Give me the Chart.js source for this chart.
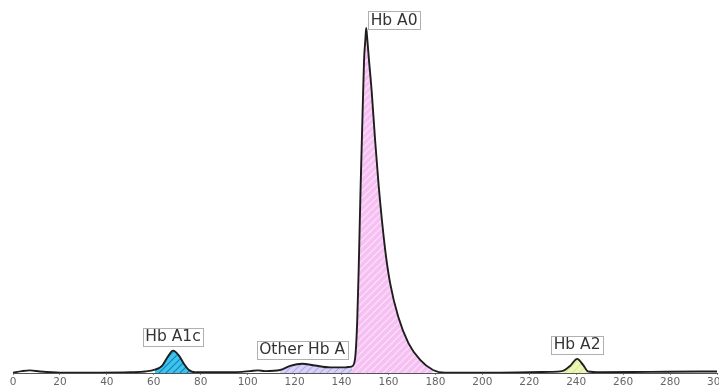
<!DOCTYPE html>
<html>
<head>
<meta charset="utf-8">
<script src="https://cdn.jsdelivr.net/npm/chart.js@4.4.0/dist/chart.umd.min.js"></script>
<style>
html,body{margin:0;padding:0;background:#fff;}
#wrap{width:719px;height:387px;}
</style>
</head>
<body>
<div id="wrap"><canvas id="c" width="719" height="387"></canvas></div>
<script>
// Retention time (s) and detector signal
const times = [0,3.8,7.2,11.5,20,37.1,49.9,56.3,60.5,63.5,65.6,68.2,70.8,72.9,75,77.6,92.5,101,104.4,107.4,113.8,118.1,123.2,128.7,135.1,141.5,142.8,
  144.5,145.8,146.7,147.3,148.1,149,149.6,150.2,150.5,151,151.7,152.8,154.3,155.8,158.6,160.7,164.2,168.5,173.5,179,184.1,
  207.6,228.9,234,237.4,240.4,243,245.1,250.2,271.5,292.8,300];
const signal = [0.1,0.5,0.7,0.4,0.1,0.1,0.2,0.4,0.9,1.9,4.0,6.0,4.6,2.4,0.8,0.2,0.2,0.5,0.7,0.5,0.8,1.9,2.5,2.0,1.5,1.5,1.6,
  1.8,4.0,14.2,27.6,49.1,70.5,83.9,89.8,92.5,89.3,83.9,75.9,62.5,50.4,33.0,24.1,15.0,8.0,3.5,0.8,0.1,
  0.1,0.3,0.5,1.9,3.8,2.1,0.4,0.2,0.3,0.4,0.4];

// Peaks
const peakNames = ['Hb A1c','Other Hb A','Hb A0','Hb A2'];
const peakStart = [60.5, 113.8, 144.5, 234];
const peakEnd   = [77.6, 144.5, 179, 245.1];
const peakApex  = [68.2, 123.2, 150.5, 240.4];
const peakLabelSide = ['center','center','right','center'];

const xTicks = [0,20,40,60,80,100,120,140,160,180,200,220,240,260,280,300];

function hatch(base, line){
  const s = 7, c = document.createElement('canvas');
  c.width = s; c.height = s;
  const g = c.getContext('2d');
  g.fillStyle = base; g.fillRect(0,0,s,s);
  g.strokeStyle = line; g.lineWidth = 1.2;
  g.beginPath();
  g.moveTo(0,s); g.lineTo(s,0);
  g.moveTo(-s/2,s/2); g.lineTo(s/2,-s/2);
  g.moveTo(s/2,s+s/2); g.lineTo(s+s/2,s/2);
  g.stroke();
  return c;
}
const ctx = document.getElementById('c').getContext('2d');
const fills = [
  ctx.createPattern(hatch('#3cc4ee','#1583b5'),'repeat'),
  ctx.createPattern(hatch('#d9d2f6','#b3a8ee'),'repeat'),
  ctx.createPattern(hatch('#f6c0f3','#fbe3fa'),'repeat'),
  ctx.createPattern(hatch('#eef5b8','#dfe890'),'repeat')
];

function segFill(c){
  const a = c.p0.parsed.x, b = c.p1.parsed.x;
  for (let i=0;i<peakStart.length;i++){
    if (a >= peakStart[i] && b <= peakEnd[i]) return fills[i];
  }
  return 'rgba(0,0,0,0)';
}

const labelPlugin = {
  id:'peakLabels',
  afterDatasetsDraw(chart){
    const {ctx, scales:{x,y}} = chart;
    ctx.save();
    ctx.font = '15.5px "DejaVu Sans"';
    ctx.textBaseline = 'middle';
    peakNames.forEach((name,i)=>{
      const idx = times.indexOf(peakApex[i]);
      const px = x.getPixelForValue(peakApex[i]);
      const py = y.getPixelForValue(signal[idx]);
      const tw = ctx.measureText(name).width;
      const w = tw + 5, h = 18;
      let bx, by;
      if (peakLabelSide[i] === 'right'){ bx = px + 2; by = py + 1 - h; }
      else { bx = px - w/2; by = py - 5 - h; }
      ctx.fillStyle = '#ffffff';
      ctx.fillRect(bx,by,w,h);
      ctx.strokeStyle = '#b0b0b0'; ctx.lineWidth = 1;
      ctx.strokeRect(Math.round(bx)+0.5, Math.round(by)+0.5, Math.round(w), Math.round(h));
      ctx.fillStyle = '#333333';
      ctx.textAlign = 'left';
      ctx.fillText(name, bx + 2.5, by + h/2 + 0.5);
    });
    ctx.restore();
  }
};

new Chart(ctx, {
  type:'line',
  data:{
    datasets:[{
      data: times.map((t,i)=>({x:t, y:signal[i]})),
      borderColor:'#1e1e1e',
      borderWidth:1.9,
      pointRadius:0,
      cubicInterpolationMode:'monotone',
      fill:'origin',
      backgroundColor:'rgba(0,0,0,0)',
      segment:{ backgroundColor: segFill }
    }]
  },
  options:{
    responsive:false,
    animation:false,
    events:[],
    layout:{padding:{left:13,right:2,top:0,bottom:0}},
    plugins:{legend:{display:false}, tooltip:{enabled:false}},
    scales:{
      x:{
        type:'linear', min:0, max:300,
        afterBuildTicks(s){ s.ticks = xTicks.map(v=>({value:v})); },
        afterFit(s){ s.height = 14; s.paddingLeft = 0; s.paddingRight = 0; },
        border:{display:true, color:'#555', width:1},
        grid:{display:true, drawOnChartArea:false, drawTicks:true, tickLength:2, color:'#888'},
        ticks:{autoSkip:false, maxRotation:0, padding:1, color:'#666', font:{family:'"DejaVu Sans"', size:10.5}}
      },
      y:{ display:false, min:0, max:100 }
    }
  },
  plugins:[labelPlugin]
});
</script>
</body>
</html>
